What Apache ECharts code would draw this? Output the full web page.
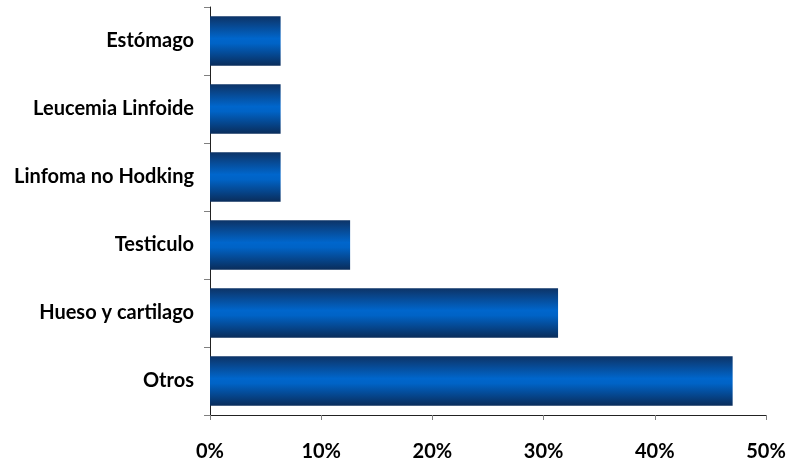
<!DOCTYPE html>
<html>
<head>
<meta charset="utf-8">
<script src="https://cdn.jsdelivr.net/npm/echarts@6/dist/echarts.min.js"></script>
<style>html,body{margin:0;padding:0;background:#fff}#c{width:789px;height:464px}</style>
</head>
<body>
<div id="c"></div>
<script>
var categories = ['Otros', 'Hueso y cartilago', 'Testiculo', 'Linfoma no Hodking', 'Leucemia Linfoide', 'Estómago'];
var values = [47.0, 31.3, 12.6, 6.35, 6.35, 6.35];
var xTicks = [0, 10, 20, 30, 40, 50];

var chart = echarts.init(document.getElementById('c'));
chart.setOption({
  animation: false,
  grid: {left: 210, right: 23, top: 7, bottom: 49, containLabel: false},
  xAxis: {
    type: 'value', min: xTicks[0], max: xTicks[xTicks.length - 1], interval: 10,
    axisLine: {show: true, lineStyle: {color: '#222', width: 1}},
    axisTick: {show: true, length: 5, lineStyle: {color: '#808080'}},
    splitLine: {show: false},
    axisLabel: {margin: 27, formatter: '{value}%', color: '#000', fontFamily: 'Lato', fontWeight: 'bold', fontSize: 20}
  },
  yAxis: {
    type: 'category', data: categories,
    axisLine: {show: true, lineStyle: {color: '#222', width: 1}},
    axisTick: {show: true, length: 6, lineStyle: {color: '#808080'}},
    axisLabel: {margin: 16, color: '#000', fontFamily: 'Lato', fontWeight: 'bold', fontSize: 20}
  },
  series: [{
    type: 'bar', data: values, barCategoryGap: '27%',
    itemStyle: {
      color: new echarts.graphic.LinearGradient(0, 0, 0, 1, [
        {offset: 0, color: '#0d3366'},
        {offset: 0.45, color: '#0066cc'},
        {offset: 0.55, color: '#0063c6'},
        {offset: 1, color: '#0a2c5a'}
      ])
    }
  }]
});
</script>
</body>
</html>
